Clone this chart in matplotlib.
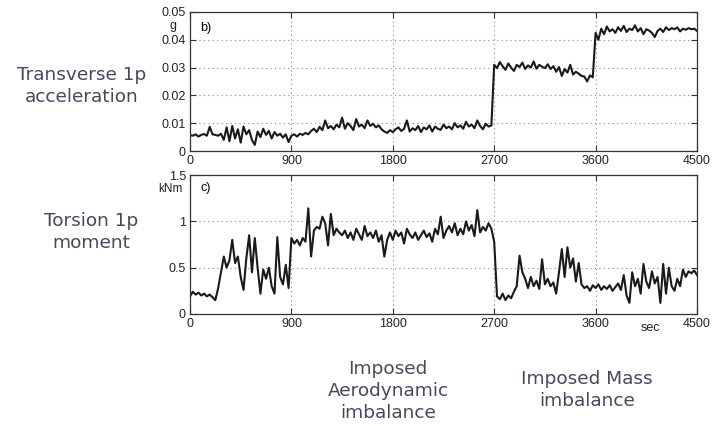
import numpy as np
import matplotlib.pyplot as plt

# time axis (sec), one sample every 25 s
t = np.arange(0, 4501, 25)

# transverse 1p acceleration (g)
acc = [
    0.0057, 0.0055, 0.0060, 0.0052, 0.0058, 0.0061, 0.0055, 0.0087, 0.0060, 0.0058,
    0.0055, 0.0062, 0.0040, 0.0085, 0.0035, 0.0090, 0.0045, 0.0078, 0.0030, 0.0088,
    0.0060, 0.0075, 0.0040, 0.0022, 0.0070, 0.0050, 0.0080, 0.0058, 0.0072, 0.0045,
    0.0068, 0.0055, 0.0062, 0.0048, 0.0060, 0.0032,
    0.0055, 0.0060, 0.0052, 0.0062, 0.0058, 0.0065, 0.0060, 0.0072, 0.0080, 0.0068,
    0.0087, 0.0075, 0.0110, 0.0082, 0.0090, 0.0078, 0.0095, 0.0085, 0.0120, 0.0080,
    0.0100, 0.0090, 0.0075, 0.0115, 0.0088, 0.0095, 0.0082, 0.0110, 0.0090, 0.0098,
    0.0085, 0.0092, 0.0078, 0.0070, 0.0065, 0.0075,
    0.0068, 0.0078, 0.0085, 0.0072, 0.0080, 0.0110, 0.0070, 0.0082, 0.0075, 0.0090,
    0.0068, 0.0085, 0.0078, 0.0092, 0.0070, 0.0088, 0.0080, 0.0076, 0.0095, 0.0082,
    0.0088, 0.0078, 0.0100, 0.0085, 0.0092, 0.0080, 0.0105, 0.0088, 0.0095, 0.0082,
    0.0110, 0.0090, 0.0078, 0.0098, 0.0088, 0.0092,
    0.0310, 0.0298, 0.0320, 0.0305, 0.0292, 0.0315, 0.0300, 0.0288, 0.0310, 0.0302,
    0.0318, 0.0295, 0.0308, 0.0300, 0.0322, 0.0296, 0.0310, 0.0303, 0.0298, 0.0312,
    0.0295, 0.0305, 0.0285, 0.0302, 0.0270, 0.0295, 0.0282, 0.0310, 0.0275, 0.0285,
    0.0278, 0.0270, 0.0268, 0.0250, 0.0272, 0.0265,
    0.0425, 0.0400, 0.0440, 0.0420, 0.0448, 0.0430, 0.0438, 0.0425, 0.0445, 0.0432,
    0.0450, 0.0428, 0.0440, 0.0435, 0.0452, 0.0430, 0.0442, 0.0420, 0.0438, 0.0433,
    0.0425, 0.0410, 0.0432, 0.0440, 0.0428, 0.0445, 0.0435, 0.0442, 0.0438, 0.0445,
    0.0430, 0.0440, 0.0436, 0.0442, 0.0438, 0.0440, 0.0432,
]

# torsion 1p moment (kNm)
mom = [
    0.19, 0.24, 0.21, 0.23, 0.20, 0.22, 0.19, 0.21, 0.18, 0.15,
    0.28, 0.45, 0.62, 0.50, 0.58, 0.80, 0.55, 0.62, 0.40, 0.26,
    0.60, 0.85, 0.45, 0.82, 0.50, 0.22, 0.48, 0.38, 0.50, 0.30,
    0.22, 0.83, 0.40, 0.32, 0.53, 0.28,
    0.82, 0.76, 0.80, 0.74, 0.82, 0.78, 1.14, 0.62, 0.90, 0.94,
    0.92, 1.05, 0.98, 0.74, 1.08, 0.85, 0.92, 0.88, 0.85, 0.90,
    0.82, 0.88, 0.80, 0.92, 0.86, 0.80, 0.95, 0.84, 0.88, 0.82,
    0.90, 0.78, 0.85, 0.62, 0.80, 0.88,
    0.80, 0.90, 0.84, 0.88, 0.76, 0.92, 0.86, 0.82, 0.88, 0.80,
    0.85, 0.90, 0.83, 0.87, 0.78, 0.92, 0.86, 1.05, 0.82, 0.90,
    0.95, 0.88, 0.98, 0.85, 0.92, 0.86, 1.00, 0.90, 0.96, 0.84,
    1.12, 0.88, 0.94, 0.90, 0.98, 0.92,
    0.78, 0.19, 0.16, 0.22, 0.15, 0.20, 0.17, 0.24, 0.30, 0.63,
    0.45, 0.38, 0.28, 0.40, 0.30, 0.36, 0.27, 0.59, 0.32, 0.38,
    0.30, 0.34, 0.22, 0.45, 0.70, 0.40, 0.72, 0.50, 0.60, 0.35,
    0.55, 0.32, 0.28, 0.30, 0.25, 0.31,
    0.28, 0.32, 0.26, 0.30, 0.27, 0.31, 0.25, 0.29, 0.33, 0.26,
    0.42, 0.20, 0.12, 0.45, 0.30, 0.38, 0.22, 0.54, 0.35, 0.28,
    0.46, 0.33, 0.40, 0.12, 0.54, 0.22, 0.50, 0.30, 0.25, 0.38,
    0.30, 0.48, 0.40, 0.46, 0.44, 0.47, 0.42,
]

xticks = [0, 900, 1800, 2700, 3600, 4500]
acc_ticks = [0, 0.01, 0.02, 0.03, 0.04, 0.05]
acc_labels = ["0", "0.01", "0.02", "0.03", "0.04", "0.05"]
mom_ticks = [0, 0.5, 1, 1.5]
mom_labels = ["0", "0.5", "1", "1.5"]

W, H = 714, 426
fig = plt.figure(figsize=(W / 100, H / 100), dpi=100)
ax1 = fig.add_axes([190 / W, 1 - 151 / H, 507 / W, 139 / H])
ax2 = fig.add_axes([190 / W, 1 - 314 / H, 507 / W, 139 / H])

tick_font = dict(family="Liberation Sans", size=9, color="#222222")

for ax, y, yt, yl in [(ax1, acc, acc_ticks, acc_labels), (ax2, mom, mom_ticks, mom_labels)]:
    ax.plot(t, y, color="#1a1a1a", lw=1.5)
    ax.set_xlim(0, 4500)
    ax.set_ylim(yt[0], yt[-1])
    ax.set_xticks(xticks)
    ax.set_yticks(yt)
    ax.set_xticklabels([str(v) for v in xticks], fontdict=tick_font)
    ax.set_yticklabels(yl, fontdict=tick_font)
    ax.grid(True, linestyle=(0, (1, 3)), color="#888888", lw=0.8)
    ax.tick_params(direction="in", length=4, top=True, right=True, pad=3, color="#333333")
    for s in ax.spines.values():
        s.set_color("#333333")
        s.set_linewidth(0.9)

ax2.text(4083, -0.085, "sec", ha="center", va="top",
         fontsize=9, family="Liberation Sans", color="#222222")

ax1.text(0.02, 0.93, "b)", transform=ax1.transAxes, ha="left", va="top",
         fontsize=9, family="Liberation Sans")
ax2.text(0.02, 0.95, "c)", transform=ax2.transAxes, ha="left", va="top",
         fontsize=9, family="Liberation Sans")
fig.text(173 / W, 1 - 26 / H, "g", ha="center", va="center", fontsize=9,
         family="Liberation Sans", color="#222222")
fig.text(170 / W, 1 - 189 / H, "kNm", ha="center", va="center", fontsize=8.5,
         family="Liberation Sans", color="#222222")

note = dict(ha="center", va="center", fontsize=13.3, family="DejaVu Sans",
            color="#4d4560", linespacing=1.3)
fig.text(82 / W, 1 - 86 / H, "Transverse 1p\nacceleration", **note)
fig.text(91 / W, 1 - 232 / H, "Torsion 1p\nmoment", **note)
fig.text(388 / W, 1 - 391 / H, "Imposed\nAerodynamic\nimbalance", **note)
fig.text(587 / W, 1 - 390 / H, "Imposed Mass\nimbalance", **note)

fig.savefig("out.png", dpi=100)
